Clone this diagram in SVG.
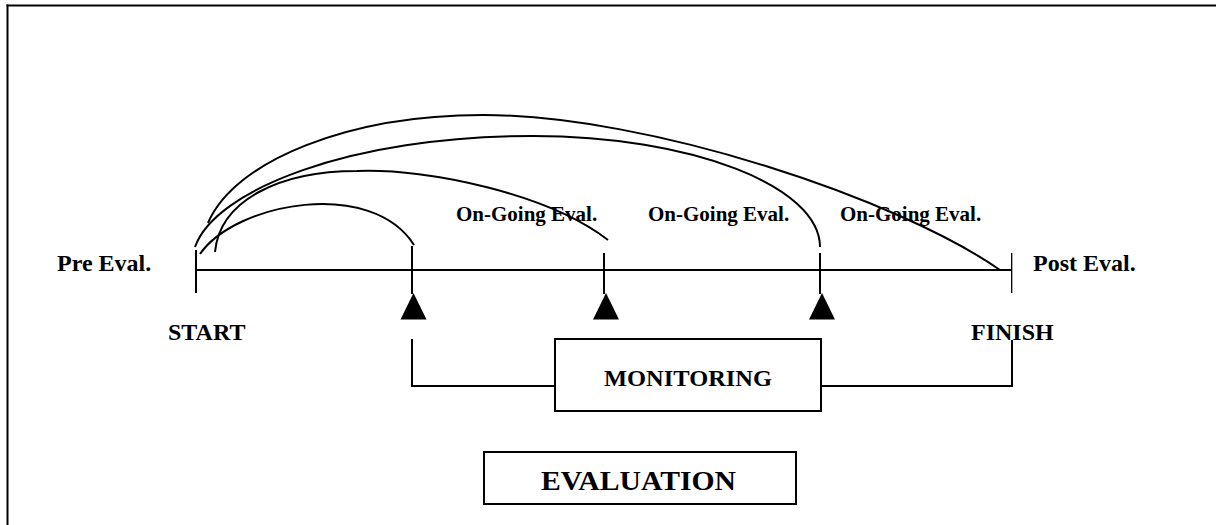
<svg xmlns="http://www.w3.org/2000/svg" width="1216" height="525" viewBox="0 0 1216 525">
<style>
.t{font-family:"Liberation Serif","Times New Roman",serif;font-weight:bold;fill:#000}
.ln{stroke:#000;stroke-width:2;fill:none}
.thin{stroke:#000;stroke-width:1.3;fill:none}
.box{fill:#fff;stroke:#000;stroke-width:2}
.tri{fill:#000}
</style>
<rect width="1216" height="525" fill="#fff"/>
<g id="frame">
<line x1="7.5" y1="4.5" x2="7.5" y2="525" class="ln"/>
<line x1="6.5" y1="5.5" x2="1216" y2="5.5" class="ln"/>
</g>
<g id="connectors">
<line x1="196" y1="270" x2="1012" y2="270" class="ln"/>
<line x1="196" y1="250" x2="196" y2="293" class="ln"/>
<line x1="1011.7" y1="253" x2="1011.7" y2="293" class="thin"/>
<line x1="412" y1="246" x2="412" y2="294" class="ln"/>
<line x1="604" y1="253" x2="604" y2="294" class="ln"/>
<line x1="820" y1="253" x2="820" y2="294" class="ln"/>
<path d="M200,254 C236,202 372,178 414,245" class="ln"/>
<path d="M215,252 C220,200 280,171 357,171 C430,168 550,195 608,240" class="ln"/>
<path d="M195,247 C215,190 350,136 533,136 C691,136 820,186 820,247" class="ln"/>
<path d="M208,223 C235,160 350,115 483,115 C650,115 900,200 1000,270" class="ln"/>
<path d="M412,339 V386 H555 M821,386 H1012 V340" class="ln"/>
</g>
<g id="markers">
<polygon points="413.5,293 400.5,319.5 426.5,319.5" class="tri"/>
<polygon points="606,293 593,319.5 619,319.5" class="tri"/>
<polygon points="822,293 809,319.5 835,319.5" class="tri"/>
</g>
<g id="pre-eval"><text x="57" y="271" class="t" font-size="24">Pre Eval.</text></g>
<g id="start"><text x="168" y="340" class="t" font-size="24">START</text></g>
<g id="post-eval"><text x="1033" y="271" class="t" font-size="24">Post Eval.</text></g>
<g id="finish"><text x="971" y="340" class="t" font-size="24">FINISH</text></g>
<g id="ongoing-1"><text x="456" y="221" class="t" font-size="21">On-Going Eval.</text></g>
<g id="ongoing-2"><text x="648" y="221" class="t" font-size="21">On-Going Eval.</text></g>
<g id="ongoing-3"><text x="840" y="221" class="t" font-size="21">On-Going Eval.</text></g>
<g id="monitoring">
<rect x="555" y="339" width="266" height="72" class="box"/>
<text x="604" y="386" class="t" font-size="23" textLength="168" lengthAdjust="spacingAndGlyphs">MONITORING</text>
</g>
<g id="evaluation">
<rect x="484" y="452" width="312" height="52" class="box"/>
<text x="541" y="490" class="t" font-size="28" textLength="195" lengthAdjust="spacingAndGlyphs">EVALUATION</text>
</g>
</svg>
